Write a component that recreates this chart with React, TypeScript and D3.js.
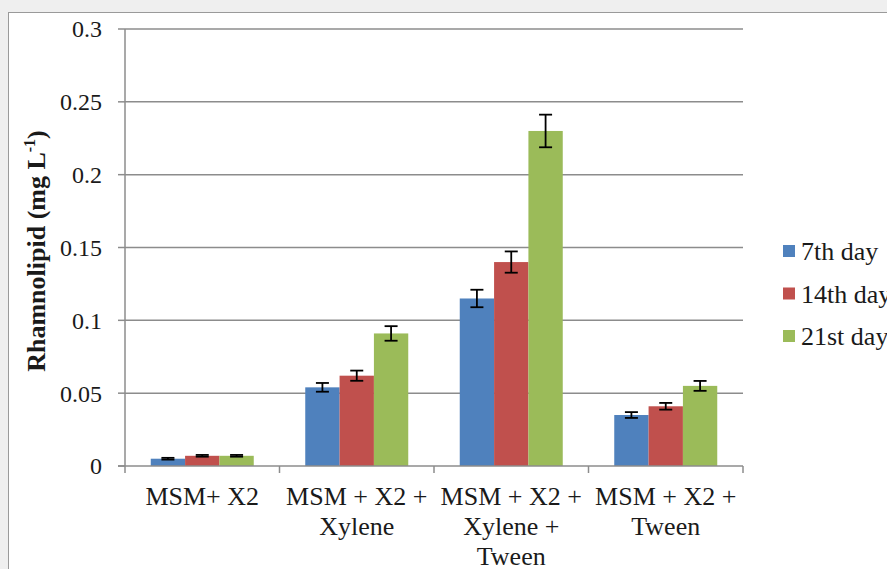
import React from "react";
import * as d3 from "d3";

const categories: string[][] = [
  ["MSM+ X2"],
  ["MSM + X2 +", "Xylene"],
  ["MSM + X2 +", "Xylene +", "Tween"],
  ["MSM + X2 +", "Tween"],
];
const seriesNames = ["7th day", "14th day", "21st day"];
const seriesColors = ["#4F81BD", "#C0504D", "#9BBB59"];
const day7 = [0.005, 0.054, 0.115, 0.035];
const day14 = [0.007, 0.062, 0.14, 0.041];
const day21 = [0.007, 0.091, 0.23, 0.055];
const err7 = [0.0006, 0.003, 0.006, 0.002];
const err14 = [0.0006, 0.0035, 0.0073, 0.0023];
const err21 = [0.0006, 0.005, 0.0112, 0.0034];
const yTicks = [0, 0.05, 0.1, 0.15, 0.2, 0.25, 0.3];

const values = [day7, day14, day21];
const errors = [err7, err14, err21];

const FONT = "'Liberation Serif', 'Times New Roman', serif";

export default function App() {
  const W = 887;
  const H = 569;
  const left = 125;
  const right = 743;
  const top = 29;
  const bottom = 466;

  const x = d3
    .scaleBand<number>()
    .domain(categories.map((_, i) => i))
    .range([left, right])
    .paddingInner(0)
    .paddingOuter(0);
  const y = d3.scaleLinear().domain([0, 0.3]).range([bottom, top]);
  const step = x.bandwidth();
  const barW = step / 4.5;
  const inner = d3
    .scaleBand<number>()
    .domain([0, 1, 2])
    .range([0.75 * barW, 0.75 * barW + 3 * barW]);

  const grid = "#8c8c8c";
  const ink = "#1a1a1a";

  return (
    <svg
      width={W}
      height={H}
      style={{ position: "absolute", left: 0, top: 0, background: "#efefef" }}
    >
      <rect x={8.5} y={12.5} width={W + 10} height={H + 10} fill="#ffffff" stroke="#9a9a9a" strokeWidth={1} />

      {/* gridlines and y tick labels */}
      {yTicks.map((t) => (
        <g key={t}>
          {t > 0 && (
            <line x1={left} x2={right} y1={y(t)} y2={y(t)} stroke={grid} strokeWidth={1.5} />
          )}
          <line x1={left - 7} x2={left} y1={y(t)} y2={y(t)} stroke={grid} strokeWidth={1.5} />
          <text
            x={102}
            y={y(t)}
            dy="0.35em"
            textAnchor="end"
            style={{ fontFamily: FONT, fontSize: 24 }}
            fill={ink}
          >
            {String(t)}
          </text>
        </g>
      ))}

      {/* bars */}
      {values.map((vals, s) =>
        vals.map((v, i) => {
          const bx = (x(i) as number) + (inner(s) as number);
          return (
            <rect
              key={`${s}-${i}`}
              x={bx}
              y={y(v)}
              width={barW}
              height={bottom - y(v)}
              fill={seriesColors[s]}
            />
          );
        })
      )}

      {/* error bars */}
      {values.map((vals, s) =>
        vals.map((v, i) => {
          const cx = (x(i) as number) + (inner(s) as number) + barW / 2;
          const e = errors[s][i];
          const y1 = y(v + e);
          const y2 = y(v - e);
          return (
            <g key={`e${s}-${i}`} stroke="#000" strokeWidth={1.8}>
              <line x1={cx} x2={cx} y1={y1} y2={y2} />
              <line x1={cx - 6.5} x2={cx + 6.5} y1={y1} y2={y1} />
              <line x1={cx - 6.5} x2={cx + 6.5} y1={y2} y2={y2} />
            </g>
          );
        })
      )}

      {/* axes */}
      <line x1={left} x2={left} y1={top} y2={bottom} stroke={grid} strokeWidth={1.5} />
      <line x1={left - 7} x2={right} y1={bottom} y2={bottom} stroke={grid} strokeWidth={1.5} />
      {d3.range(categories.length + 1).map((i) => (
        <line
          key={i}
          x1={left + i * step}
          x2={left + i * step}
          y1={bottom}
          y2={bottom + 7}
          stroke={grid}
          strokeWidth={1.5}
        />
      ))}

      {/* category labels */}
      {categories.map((lines, i) => (
        <text
          key={i}
          x={(x(i) as number) + step / 2}
          y={505}
          textAnchor="middle"
          style={{ fontFamily: FONT, fontSize: 26 }}
          fill={ink}
        >
          {lines.map((l, k) => (
            <tspan key={k} x={(x(i) as number) + step / 2} dy={k === 0 ? 0 : 30}>
              {l}
            </tspan>
          ))}
        </text>
      ))}

      {/* y axis title */}
      <text
        transform={`translate(45, 251) rotate(-90)`}
        textAnchor="middle"
        style={{ fontFamily: FONT, fontSize: 26, fontWeight: "bold" }}
        fill={ink}
      >
        Rhamnolipid (mg L
        <tspan dy={-10} style={{ fontSize: 16 }}>-1</tspan>
        <tspan dy={10}>)</tspan>
      </text>

      {/* legend */}
      {seriesNames.map((n, s) => (
        <g key={n} transform={`translate(783, ${251 + s * 42.5})`}>
          <rect x={0} y={-6} width={12} height={12} fill={seriesColors[s]} />
          <text
            x={18}
            y={0}
            dy="0.35em"
            style={{ fontFamily: FONT, fontSize: 26 }}
            fill={ink}
          >
            {n}
          </text>
        </g>
      ))}
    </svg>
  );
}
